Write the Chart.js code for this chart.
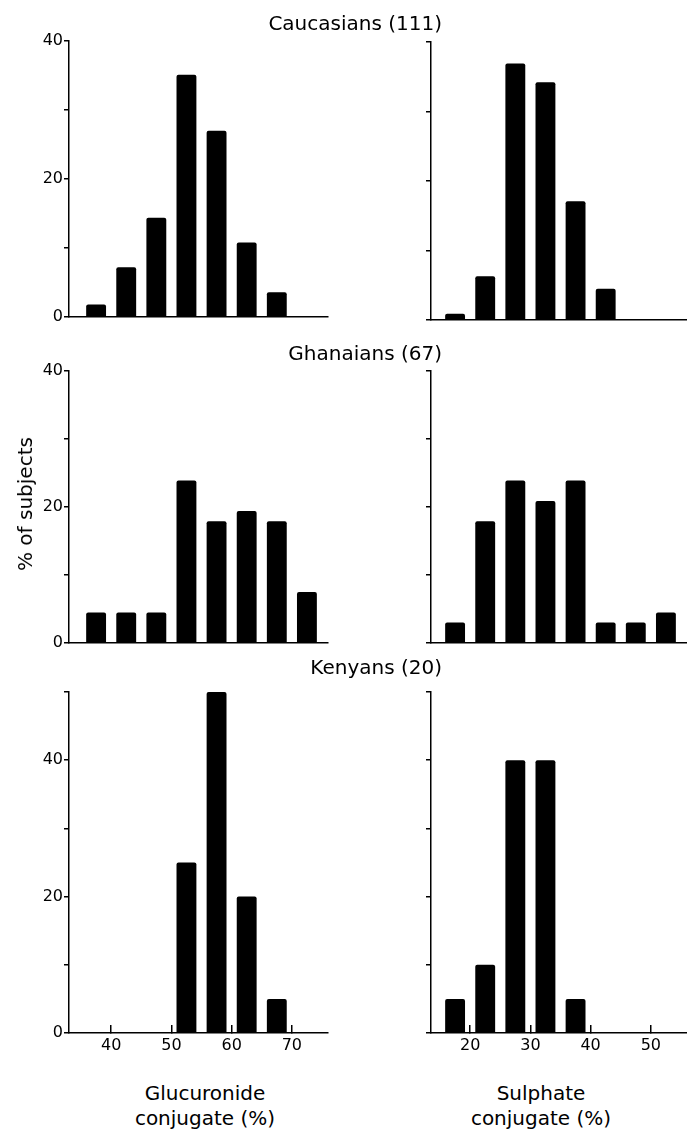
<!DOCTYPE html>
<html>
<head>
<meta charset="utf-8">
<script src="https://cdn.jsdelivr.net/npm/chart.js@4.4.1/dist/chart.umd.min.js"></script>
<style>
  html, body { margin: 0; padding: 0; background: #fff; overflow: hidden; }
  #page { position: relative; width: 687px; height: 1132px; font-family: "DejaVu Sans", sans-serif; color: #000; }
  #page canvas { position: absolute; }
  .lbl { position: absolute; font-size: 20px; line-height: 20px; white-space: nowrap; }
  .group { right: 245px; text-align: right; }
  .xt { width: 200px; text-align: center; }
</style>
</head>
<body>
<div id="page">
  <canvas id="cauGluc"  width="340" height="302" style="left:0;top:27px"></canvas>
  <canvas id="cauSulph" width="325" height="304" style="left:362px;top:28px"></canvas>
  <canvas id="ghaGluc"  width="340" height="298" style="left:0;top:357px"></canvas>
  <canvas id="ghaSulph" width="325" height="298" style="left:362px;top:357px"></canvas>
  <canvas id="kenGluc"  width="340" height="395" style="left:0;top:678px"></canvas>
  <canvas id="kenSulph" width="325" height="395" style="left:362px;top:678px"></canvas>

  <div class="lbl group" style="top:13px">Caucasians (111)</div>
  <div class="lbl group" style="top:343px">Ghanaians (67)</div>
  <div class="lbl group" style="top:657px">Kenyans (20)</div>

  <div class="lbl" style="left:25px;top:504px;transform:translate(-50%,-50%) rotate(-90deg)">% of subjects</div>

  <div class="lbl xt" style="left:105px;top:1083px">Glucuronide</div>
  <div class="lbl xt" style="left:105px;top:1108px">conjugate (%)</div>
  <div class="lbl xt" style="left:441px;top:1083px">Sulphate</div>
  <div class="lbl xt" style="left:441px;top:1108px">conjugate (%)</div>
</div>

<script>
// bin centres (5% wide bins)
const glucuronideBins = [37.5, 42.5, 47.5, 52.5, 57.5, 62.5, 67.5, 72.5];
const sulphateBins = [17.5, 22.5, 27.5, 32.5, 37.5, 42.5, 47.5, 52.5];

// % of subjects in each bin
const caucasianGluc = [1.8, 7.2, 14.4, 35.1, 27.0, 10.8, 3.6, 0];
const caucasianSulph = [0.9, 6.3, 36.9, 34.2, 17.1, 4.5, 0, 0];
const ghanaianGluc = [4.5, 4.5, 4.5, 23.9, 17.9, 19.4, 17.9, 7.5];
const ghanaianSulph = [3.0, 17.9, 23.9, 20.9, 23.9, 3.0, 3.0, 4.5];
const kenyanGluc = [0, 0, 0, 25, 50, 20, 5, 0];
const kenyanSulph = [5, 10, 40, 40, 5, 0, 0, 0];

// tick values
const glucuronideTicks = [40, 50, 60, 70];
const sulphateTicks = [20, 30, 40, 50];
const percentTicks = [0, 10, 20, 30, 40];
const percentTicksKenya = [0, 10, 20, 30, 40, 50];
const percentLabels = [0, 20, 40];

Chart.defaults.font.family = '"DejaVu Sans", sans-serif';
Chart.defaults.font.size = 16;
Chart.defaults.color = '#000';

function drawPanel(id, bins, values, opts) {
  const ctx = document.getElementById(id).getContext('2d');
  return new Chart(ctx, {
    type: 'bar',
    data: {
      datasets: [{
        data: bins.map((b, i) => ({ x: b, y: values[i] })),
        backgroundColor: '#000',
        borderWidth: 0,
        borderRadius: 2,
        barPercentage: 0.66,
        categoryPercentage: 1
      }]
    },
    options: {
      responsive: false,
      animation: false,
      devicePixelRatio: 1,
      layout: { padding: { top: 14, right: opts.padRight, bottom: 0, left: 0 } },
      plugins: { legend: { display: false }, tooltip: { enabled: false } },
      scales: {
        x: {
          type: 'linear',
          offset: false,
          min: opts.xMin,
          max: opts.xMax,
          afterFit: s => { s.height = opts.xTicks ? 40 : 12; },
          afterBuildTicks: s => { s.ticks = (opts.xTicks || []).map(v => ({ value: v })); },
          grid: {
            display: !!opts.xTicks,
            offset: false,
            drawOnChartArea: false,
            drawTicks: true,
            tickLength: -8,
            color: '#000',
            lineWidth: 1.5
          },
          border: { display: true, color: '#000', width: 1.5 },
          ticks: { display: !!opts.xTicks, padding: 11, maxRotation: 0, includeBounds: false }
        },
        y: {
          min: 0,
          max: opts.yMax,
          afterFit: s => { s.width = 69; },
          afterBuildTicks: s => { s.ticks = opts.yTicks.map(v => ({ value: v })); },
          grid: {
            display: true,
            drawOnChartArea: false,
            drawTicks: true,
            tickLength: 5,
            color: '#000',
            lineWidth: 1.5
          },
          border: { display: true, color: '#000', width: 1.5 },
          ticks: {
            padding: 1,
            callback: v => (opts.yLabels && percentLabels.includes(v)) ? v : ''
          }
        }
      }
    }
  });
}

const left = { xMin: 33, xMax: 76, padRight: 12, yLabels: true };
const right = { xMin: 13.5, xMax: 56, padRight: 0, yLabels: false };

drawPanel('cauGluc', glucuronideBins, caucasianGluc, { ...left, yMax: 40, yTicks: percentTicks });
drawPanel('cauSulph', sulphateBins, caucasianSulph, { ...right, yMax: 40, yTicks: percentTicks });
drawPanel('ghaGluc', glucuronideBins, ghanaianGluc, { ...left, yMax: 40, yTicks: percentTicks });
drawPanel('ghaSulph', sulphateBins, ghanaianSulph, { ...right, yMax: 40, yTicks: percentTicks });
drawPanel('kenGluc', glucuronideBins, kenyanGluc, { ...left, yMax: 50, yTicks: percentTicksKenya, xTicks: glucuronideTicks });
drawPanel('kenSulph', sulphateBins, kenyanSulph, { ...right, yMax: 50, yTicks: percentTicksKenya, xTicks: sulphateTicks });
</script>
</body>
</html>
